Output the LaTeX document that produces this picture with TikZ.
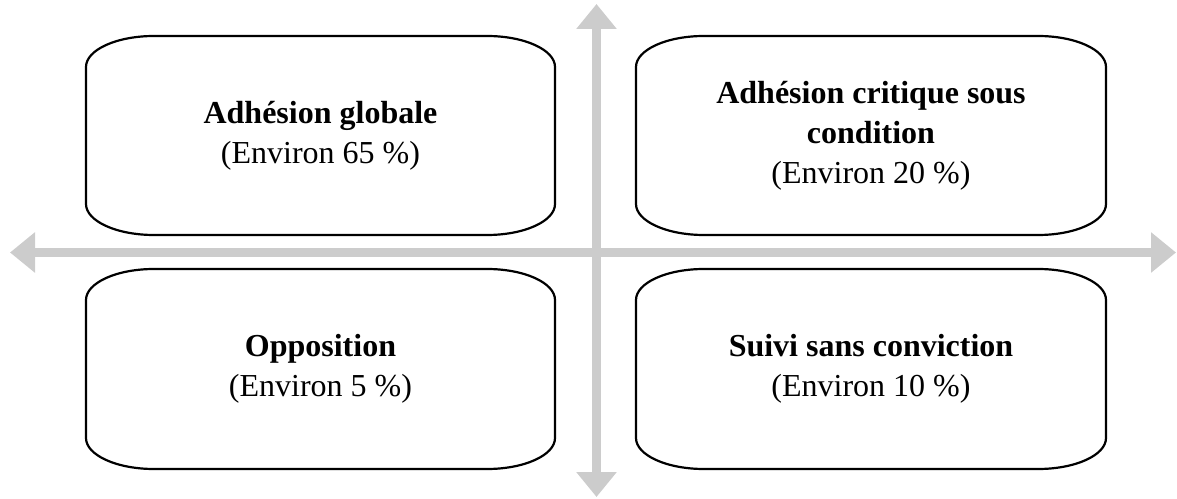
\documentclass[tikz,border=0pt]{standalone}
\usepackage{fontspec}
\setmainfont{Liberation Serif}
\usetikzlibrary{arrows.meta}
\definecolor{axisgray}{RGB}{204,204,204}
\tikzset{
  axis/.style={draw=axisgray, line width=9pt, -{Triangle[length=25pt,width=39pt]}, shorten >=0pt},
  boxline/.style={draw=black, line width=2.2pt},
  label/.style={align=center, font=\fontsize{32}{40}\selectfont, inner sep=0pt},
}
\newcommand{\ovalbox}[4]{% x1 y1 x2 y2
  \draw[boxline] ({#1+68},#4) -- ({#3-68},#4)
    arc[start angle=90,end angle=0,x radius=68,y radius=31]
    -- (#3,{#2+31})
    arc[start angle=0,end angle=-90,x radius=68,y radius=31]
    -- ({#1+68},#2)
    arc[start angle=270,end angle=180,x radius=68,y radius=31]
    -- (#1,{#4-31})
    arc[start angle=180,end angle=90,x radius=68,y radius=31]
    -- cycle;}
\begin{document}
\begin{tikzpicture}[x=1pt,y=1pt]
\useasboundingbox (0,0) rectangle (1177,498);
% axes
\coordinate (hl) at (10,245.5);
\coordinate (hr) at (1176,245.5);
\coordinate (vt) at (596.5,494);
\coordinate (vb) at (596.5,1);
\coordinate (c) at (596.5,245.5);
\draw[axis] (c) -- (hl);
\draw[axis] (c) -- (hr);
\draw[axis] (c) -- (vt);
\draw[axis] (c) -- (vb);
% boxes
\ovalbox{86}{263}{555}{462}
\ovalbox{636}{263}{1106}{462}
\ovalbox{86}{29}{555}{229}
\ovalbox{636}{29}{1106}{229}
% texts
\node[label] (tl) at (320.5,362.5) {\textbf{Adhésion globale}\\(Environ 65 \%)};
\node[label] (tr) at (871,362.5) {\textbf{Adhésion critique sous}\\\textbf{condition}\\(Environ 20 \%)};
\node[label] (bl) at (320.5,129) {\textbf{Opposition}\\(Environ 5 \%)};
\node[label] (br) at (871,129) {\textbf{Suivi sans conviction}\\(Environ 10 \%)};
\end{tikzpicture}
\end{document}
